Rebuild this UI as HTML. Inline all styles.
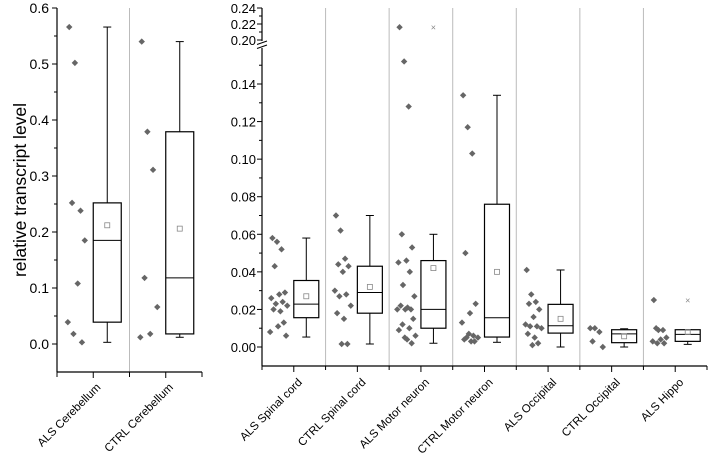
<!DOCTYPE html>
<html><head><meta charset="utf-8"><style>
html,body{margin:0;padding:0;background:#fff}
svg text{font-family:"Liberation Sans",sans-serif}
</style></head><body>
<svg id="chart" width="709" height="461" viewBox="0 0 709 461" xmlns="http://www.w3.org/2000/svg"></svg>
<script>
const leftCats=["ALS Cerebellum","CTRL Cerebellum"];
const rightCats=["ALS Spinal cord","CTRL Spinal cord","ALS Motor neuron","CTRL Motor neuron","ALS Occipital","CTRL Occipital","ALS Hippo"];
const leftStats=[[0.003,0.039,0.185,0.252,0.566,0.212],[0.012,0.018,0.118,0.379,0.540,0.206]];
const leftPoints=[[0.566,0.502,0.238,0.252,0.185,0.108,0.039,0.003,0.018],[0.540,0.379,0.311,0.118,0.066,0.018,0.012]];
const rightStats=[
[0.0053,0.0156,0.0228,0.0354,0.058,0.027],
[0.0016,0.018,0.029,0.043,0.070,0.032],
[0.002,0.010,0.020,0.046,0.060,0.042],
[0.0025,0.0053,0.0156,0.076,0.134,0.040],
[0.0,0.0074,0.0113,0.0227,0.041,0.015],
[0.0,0.0023,0.007,0.0092,0.0097,0.0057],
[0.0014,0.003,0.0067,0.0092,0.0092,0.008]];
const rightOutliers=[null,null,0.216,null,null,null,0.025];
const rightPoints=[
[0.058,0.056,0.052,0.043,0.029,0.028,0.026,0.024,0.023,0.022,0.020,0.019,0.013,0.011,0.008,0.006],
[0.070,0.062,0.047,0.044,0.043,0.040,0.030,0.028,0.027,0.022,0.018,0.015,0.0016,0.0016],
[0.216,0.152,0.128,0.060,0.053,0.046,0.045,0.040,0.033,0.027,0.022,0.021,0.020,0.020,0.020,0.015,0.012,0.010,0.009,0.006,0.005,0.004,0.002],
[0.134,0.117,0.103,0.050,0.023,0.018,0.013,0.006,0.005,0.005,0.004,0.003,0.003,0.007],
[0.041,0.028,0.024,0.023,0.020,0.016,0.012,0.011,0.011,0.010,0.007,0.005,0.002,0.001],
[0.010,0.010,0.008,0.003,0.0],
[0.025,0.009,0.009,0.010,0.005,0.004,0.003,0.002,0.002]];
const leftTicks=[0,0.1,0.2,0.3,0.4,0.5,0.6];
const rightTicks=[0,0.02,0.04,0.06,0.08,0.10,0.12,0.14];
const upperTicks=[0.20,0.22,0.24];

const svg=document.getElementById('chart');
const NS="http://www.w3.org/2000/svg";
function mk(tag,attrs,parent){const e=document.createElementNS(NS,tag);for(const k in attrs)e.setAttribute(k,attrs[k]);(parent||svg).appendChild(e);return e;}
const yL=v=>344-v/0.6*336;
const yR=v=> v>=0.18 ? 40-(v-0.20)/0.04*32 : 347-v/0.02*37.57;
const jit=[0.15,0.35,0.55,0.25,0.7,0.45,0.1,0.6,0.3,0.8,0.2,0.5,0.65,0.4,0.05,0.75,0.28,0.58,0.12,0.85,0.38,0.48,0.68];

function line(x1,y1,x2,y2,st,w,name){const l=mk('line',{x1,y1,x2,y2,stroke:st||'#000','stroke-width':w||1});return l;}
function text(x,y,s,anchor,size,name,rot){const t=mk('text',{x,y,'font-size':size||13,'text-anchor':anchor||'end',fill:'#000'});if(rot)t.setAttribute('transform',`rotate(${rot} ${x} ${y})`);t.textContent=s;return t;}

function drawBox(cx,w,st,y,name,out){
  const g=mk('g',{});
  const [lo,q1,md,q3,hi,mean]=st;const x0=cx,x1=cx+w,xm=cx+w/2;
  mk('line',{x1:xm,y1:y(hi),x2:xm,y2:y(q3),stroke:'#000'},g);
  mk('line',{x1:xm,y1:y(lo),x2:xm,y2:y(q1),stroke:'#000'},g);
  mk('line',{x1:xm-4,y1:y(hi),x2:xm+4,y2:y(hi),stroke:'#000'},g);
  mk('line',{x1:xm-4,y1:y(lo),x2:xm+4,y2:y(lo),stroke:'#000'},g);
  mk('rect',{x:x0,y:y(q3),width:w,height:Math.max(1,y(q1)-y(q3)),fill:'#fff',stroke:'#000','stroke-width':1.2},g);
  mk('line',{x1:x0,y1:y(md),x2:x1,y2:y(md),stroke:'#000'},g);
  mk('rect',{x:xm-2.5,y:y(mean)-2.5,width:5,height:5,fill:'none',stroke:'#888','stroke-width':0.8},g);
  if(out!=null){mk('text',{x:xm,y:y(out)+3.5,'font-size':9,'text-anchor':'middle',fill:'#888'},g).textContent='×';}
}
function drawPts(cs,ce,pts,y,name){
  const g=mk('g',{});
  pts.forEach((v,i)=>{const x=cs+(ce-cs)*jit[i%jit.length];const yy=y(v);
    mk('path',{d:`M${x} ${yy-3.2}L${x+3.2} ${yy}L${x} ${yy+3.2}L${x-3.2} ${yy}Z`,fill:'#666'},g);});
}

// Left panel
const Lx0=57,Lx1=202,Lcw=(Lx1-Lx0)/leftCats.length;
line(Lx0+Lcw,8,Lx0+Lcw,372,'#bbb',1,'left-separator');
line(Lx0,8,Lx0,372,'#000',1.2,'left-y-axis');
line(Lx0,372,Lx1,372,'#000',1.2,'left-x-axis');
leftTicks.forEach(v=>{line(Lx0-5,yL(v),Lx0,yL(v),'#000',1,'left-y-tick');text(Lx0-8,yL(v)+5,v.toFixed(1),'end',14,'left-y-tick-label');});
for(let v=0.05;v<0.6;v+=0.1)line(Lx0-3,yL(v),Lx0,yL(v),'#000',1,'left-y-minor-tick');
leftCats.forEach((c,i)=>{const s=Lx0+i*Lcw,cx=s+Lcw/2;
  line(s,372,s,377,'#000',1,'left-x-tick');line(cx,372,cx,378,'#000',1,'left-x-tick');
  drawPts(s+8,cx,leftPoints[i],yL,'points-'+i);
  drawBox(cx,28,leftStats[i],yL,'box-'+i,null);
  text(cx+8,388,c,'end',11.5,'x-label',-45);
});
line(Lx1,372,Lx1,377,'#000',1,'left-x-tick');
text(26,190,'relative transcript level','middle',17.5,'y-axis-title',-90);

// Right panel
const Rx0=262,Rx1=707,Rcw=(Rx1-Rx0)/rightCats.length;
rightCats.forEach((c,i)=>{if(i>0)line(Rx0+i*Rcw,8,Rx0+i*Rcw,366,'#bbb',1,'right-separator');});
line(Rx0,8,Rx0,41,'#000',1.2,'right-y-axis-upper');
line(Rx0,48,Rx0,366,'#000',1.2,'right-y-axis-lower');
line(Rx0-5,44.5,Rx0+5,41,'#000',1,'axis-break');line(Rx0-5,48.5,Rx0+5,45,'#000',1,'axis-break');
line(Rx0,366,Rx1,366,'#000',1.2,'right-x-axis');
rightTicks.forEach(v=>{line(Rx0-5,yR(v),Rx0,yR(v),'#000',1,'right-y-tick');text(Rx0-6,yR(v)+5,v.toFixed(2),'end',13,'right-y-tick-label');});
for(let k=0;k<8;k++){const v=0.01+k*0.02;line(Rx0-3,yR(v),Rx0,yR(v),'#000',1,'right-y-minor-tick');}
upperTicks.forEach(v=>{line(Rx0-5,yR(v),Rx0,yR(v),'#000',1,'upper-y-tick');text(Rx0-6,yR(v)+5,v.toFixed(2),'end',13,'upper-y-tick-label');});
[0.21,0.23].forEach(v=>line(Rx0-3,yR(v),Rx0,yR(v),'#000',1,'upper-y-minor-tick'));
rightCats.forEach((c,i)=>{const s=Rx0+i*Rcw,cx=s+Rcw/2;
  line(s,366,s,370,'#000',1,'right-x-tick');line(cx,366,cx,372,'#000',1,'right-x-tick');
  drawPts(s+7,cx-2,rightPoints[i],yR,'points-r'+i);
  drawBox(cx,25,rightStats[i],yR,'box-r'+i,rightOutliers[i]);
  text(cx+9,383,c,'end',11.5,'x-label',-45);
});
line(Rx1,366,Rx1,370,'#000',1,'right-x-tick');
</script>
</body></html>
